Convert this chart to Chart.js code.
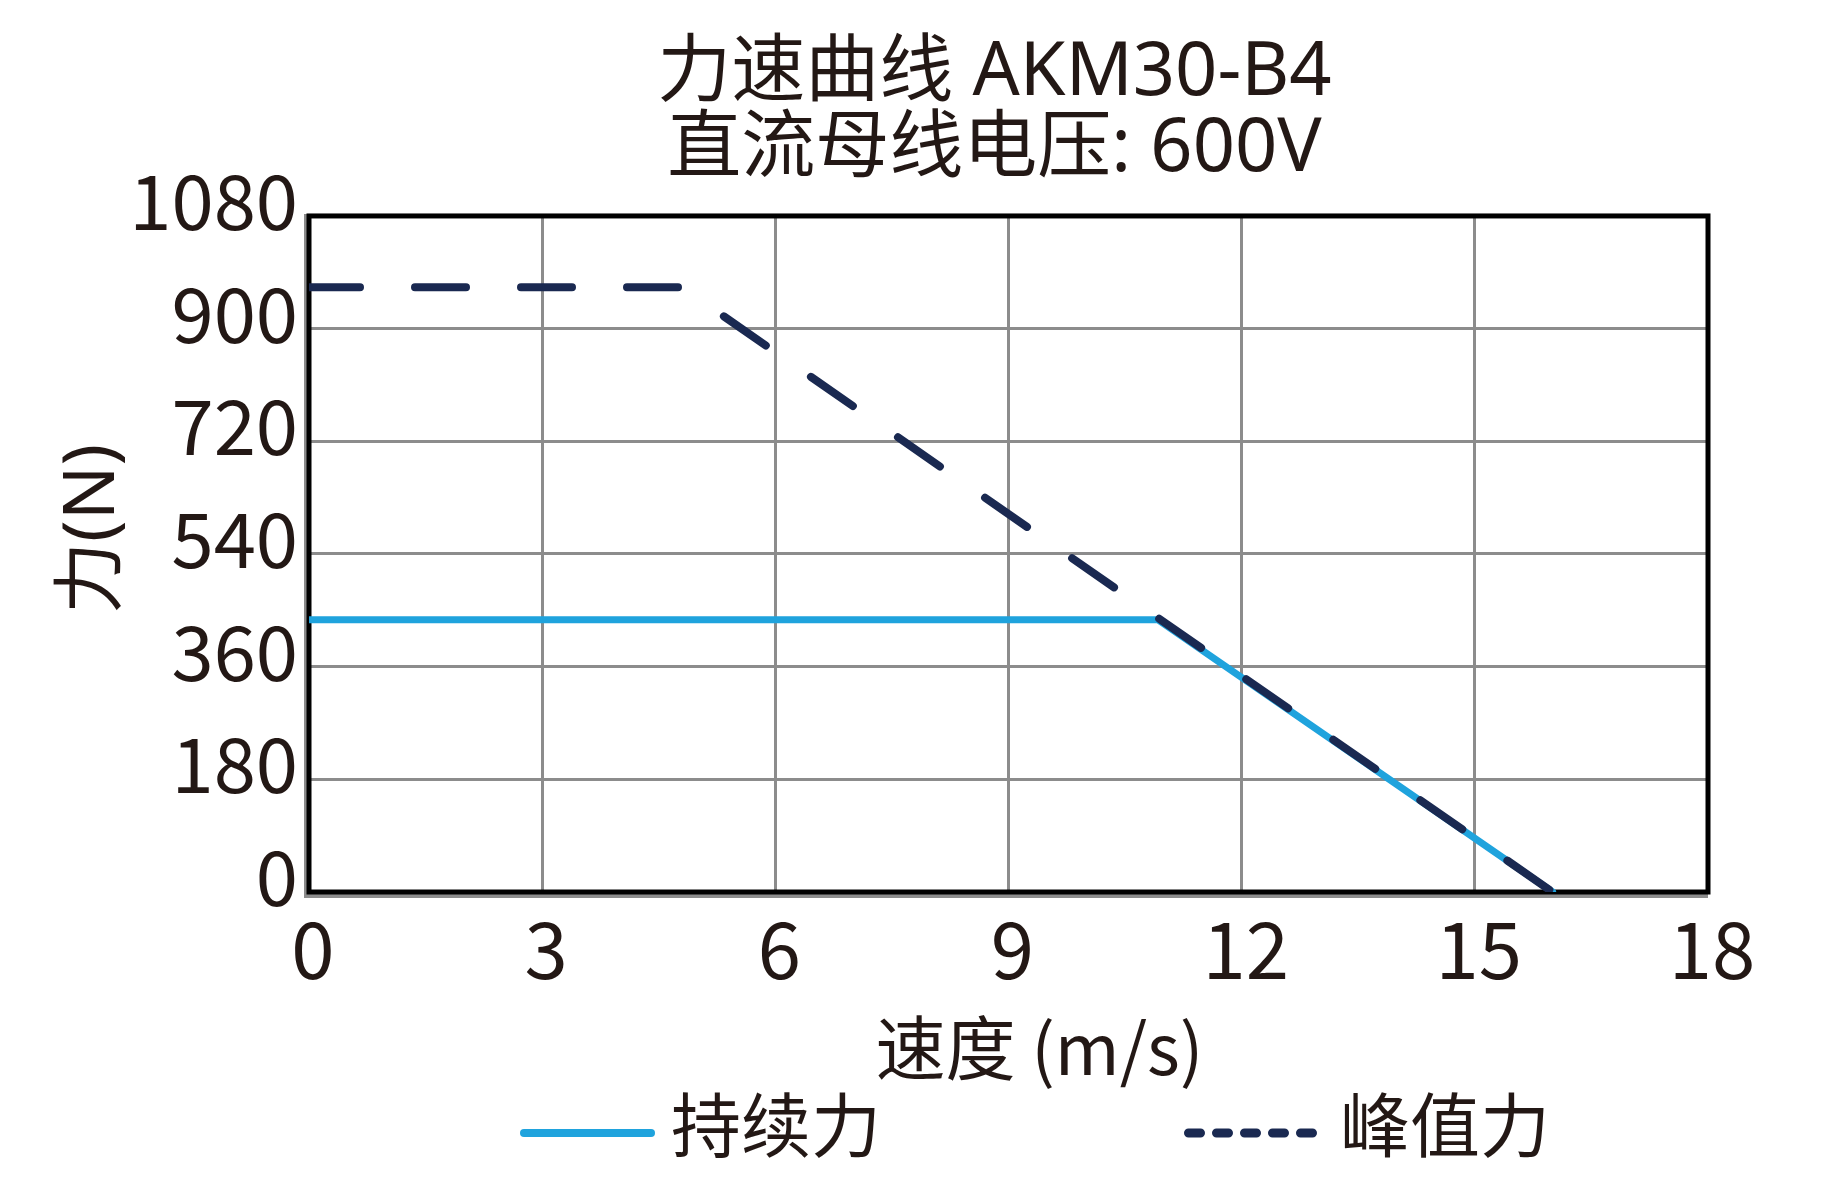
<!DOCTYPE html>
<html>
<head>
<meta charset="utf-8">
<script src="https://cdn.jsdelivr.net/npm/chart.js@4/dist/chart.umd.min.js"></script>
<style>
html,body{margin:0;padding:0;background:#fff;}
#wrap{width:1840px;height:1180px;position:relative;}
</style>
</head>
<body>
<div id="wrap"><canvas id="c"></canvas></div>
<script>
// ---- data ----
const titleLines = ['力速曲线 AKM30-B4', '直流母线电压: 600V'];
const xTitle = '速度 (m/s)';
const yTitle = '力(N)';
const seriesNames = ['持续力', '峰值力'];
const continuousSpeed = [0, 10.92, 16];
const continuousForce = [435, 435, 0];
const peakSpeed = [0, 4.8, 16];
const peakForce = [966, 966, 0];
const xTicks = [0, 3, 6, 9, 12, 15, 18];
const yTicks = [0, 180, 360, 540, 720, 900, 1080];

// ---- style ----
const CJK = "'Noto Sans CJK SC', 'Noto Sans', sans-serif";
const MIX = "'Noto Sans', 'Noto Sans CJK SC', sans-serif";
const TEXT = '#231815';
const BLUE = '#1fa3dd';
const NAVY = '#1a2951';
const GRID = '#8c8c8c';
const LEG_BOX = 424;

function legendSample(color, width, len, dash) {
  const E = 30;
  const c = document.createElement('canvas');
  c.width = LEG_BOX + 2 * E;
  c.height = 40;
  const g = c.getContext('2d');
  g.strokeStyle = color;
  g.lineWidth = width;
  g.lineCap = 'round';
  g.setLineDash(dash);
  const end = LEG_BOX + 19 + E;
  g.beginPath();
  g.moveTo(end - len + width / 2, 28);
  g.lineTo(end - width / 2, 28);
  g.stroke();
  return c;
}
const samples = [
  legendSample(BLUE, 8, 135, []),
  legendSample(NAVY, 9, 140, [12, 16])
];

function shiftBoxes(chart, s) {
  const y = chart.scales.y, x = chart.scales.x;
  y.top -= 25 * s; y.bottom -= 25 * s;
  x.left += 31 * s; x.right += 31 * s;
  if (chart.titleBlock) { chart.titleBlock.left -= 14 * s; chart.titleBlock.right -= 14 * s; }
}

const framePlugin = {
  id: 'frame',
  beforeDraw(chart) { shiftBoxes(chart, 1); },
  beforeDatasetsDraw(chart) {
    shiftBoxes(chart, -1);
    const {ctx, chartArea: a} = chart;
    ctx.save();
    ctx.strokeStyle = GRID;
    ctx.lineWidth = 4;
    ctx.beginPath();
    ctx.moveTo(a.left - 3, a.top - 2);
    ctx.lineTo(a.left - 3, a.bottom + 4);
    ctx.lineTo(a.right, a.bottom + 4);
    ctx.stroke();
    ctx.strokeStyle = '#000';
    ctx.lineWidth = 5;
    ctx.strokeRect(a.left, a.top, a.right - a.left, a.bottom - a.top);
    ctx.restore();
  }
};

new Chart(document.getElementById('c'), {
  type: 'line',
  data: {
    datasets: [
      {
        label: seriesNames[0],
        data: continuousSpeed.map((x, i) => ({x, y: continuousForce[i]})),
        borderColor: BLUE,
        backgroundColor: BLUE,
        borderWidth: 7,
        borderCapStyle: 'round',
        borderJoinStyle: 'round',
        pointRadius: 0,
        tension: 0,
        order: 1
      },
      {
        label: seriesNames[1],
        data: peakSpeed.map((x, i) => ({x, y: peakForce[i]})),
        borderColor: NAVY,
        backgroundColor: NAVY,
        borderWidth: 8,
        borderDash: [51, 55],
        borderCapStyle: 'round',
        borderJoinStyle: 'round',
        pointRadius: 0,
        tension: 0,
        order: 0
      }
    ]
  },
  options: {
    responsive: true,
    maintainAspectRatio: false,
    animation: false,
    events: [],
    layout: {padding: {left: 54, right: 132, top: 0, bottom: 10}},
    plugins: {
      tooltip: {enabled: false},
      title: {
        display: true,
        text: titleLines,
        fullSize: false,
        color: TEXT,
        font: {family: MIX, size: 74, weight: 'normal', lineHeight: 1.02},
        padding: {top: 36.5, bottom: 28.5}
      },
      legend: {
        position: 'bottom',
        labels: {
          usePointStyle: true,
          pointStyleWidth: LEG_BOX,
          boxHeight: 70,
          padding: 0,
          color: TEXT,
          font: {family: CJK, size: 70},
          generateLabels(chart) {
            return chart.data.datasets.map((ds, i) => ({
              text: ds.label,
              datasetIndex: i,
              pointStyle: samples[i],
              fontColor: TEXT,
              hidden: false,
              lineWidth: 0,
              strokeStyle: 'rgba(0,0,0,0)',
              fillStyle: 'rgba(0,0,0,0)'
            }));
          }
        }
      }
    },
    scales: {
      x: {
        type: 'linear',
        position: 'bottom',
        min: xTicks[0],
        max: xTicks[xTicks.length - 1],
        afterBuildTicks(s) { s.ticks = xTicks.map(v => ({value: v})); },
        afterFit(s) { s.height = 198; },
        grid: {color: GRID, lineWidth: 3, drawTicks: false},
        border: {display: false},
        ticks: {
          color: TEXT,
          padding: 11,
          labelOffset: 4,
          maxRotation: 0,
          autoSkip: false,
          callback: v => String(v),
          font: {family: CJK, size: 78, lineHeight: 1.2}
        },
        title: {
          display: true,
          text: xTitle,
          color: TEXT,
          font: {family: CJK, size: 70, lineHeight: 1.2},
          padding: {top: 0, bottom: 0}
        }
      },
      y: {
        type: 'linear',
        min: yTicks[0],
        max: yTicks[yTicks.length - 1],
        afterBuildTicks(s) { s.ticks = yTicks.map(v => ({value: v})); },
        afterFit(s) { s.width = 255; },
        grid: {color: GRID, lineWidth: 3, drawTicks: false},
        border: {display: false},
        ticks: {
          color: TEXT,
          padding: 11,
          labelOffset: -15,
          autoSkip: false,
          callback: v => String(v),
          font: {family: CJK, size: 76, lineHeight: 1.2}
        },
        title: {
          display: true,
          text: yTitle,
          color: TEXT,
          font: {family: MIX, size: 72, lineHeight: 1.1},
          padding: {top: 0, bottom: 0}
        }
      }
    }
  },
  plugins: [framePlugin]
});
</script>
</body>
</html>
